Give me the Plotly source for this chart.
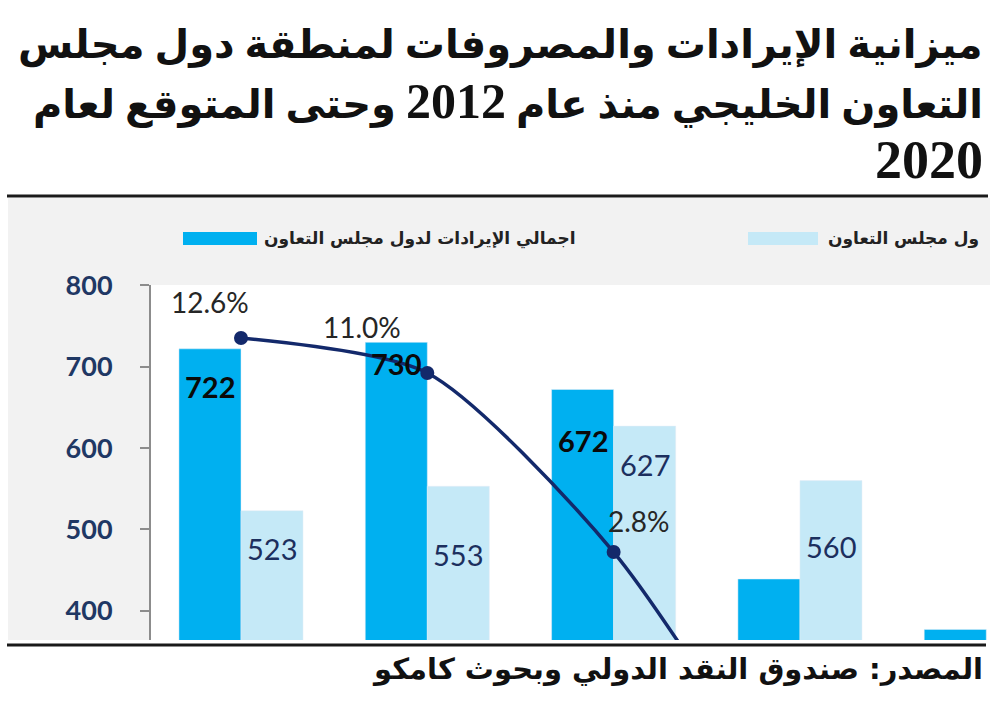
import plotly.graph_objects as go

# ---------------- data ----------------
years = ["2012", "2013", "2014", "2015", "2016"]
revenues = [722, 730, 672, 439, 377]          # اجمالي الإيرادات
expenses = [523, 553, 627, 560, None]         # اجمالي المصروفات (2016 outside visible area)
balance_pct = [12.6, 11.0, 2.8, -10.0]        # % line (last point estimated, runs off chart)
rev_labels = ["722", "730", "672"]
exp_labels = ["523", "553", "627", "560"]
pct_labels = ["12.6%", "11.0%", "2.8%"]
y_ticks = [400, 500, 600, 700, 800]

title_lines = [
    "ميزانية الإيرادات والمصروفات لمنطقة دول مجلس",
    "التعاون الخليجي منذ عام <span style='font-size:50px'>2012</span> وحتى المتوقع لعام",
    "<span style='font-size:54px'>2020</span>",
]
legend_rev = "اجمالي الإيرادات لدول مجلس التعاون"
legend_exp_visible = "ول مجلس التعاون"
source_text = "المصدر: صندوق النقد الدولي وبحوث كامكو"

# ---------------- layout geometry (pixels) ----------------
W, H = 1000, 721
L, R, T, B = 151, 990, 285, 640


def px(x):
    return (x - L) / (R - L)


def py(y):
    return (B - y) / (B - T)


DARK = "#00b0f0"
LIGHT = "#c5e9f7"
NAVY = "#13296b"
ARABIC = "DejaVu Sans"

fig = go.Figure()
fig.add_trace(go.Bar(x=years, y=revenues, marker_color=DARK, showlegend=False,
                     name=legend_rev))
fig.add_trace(go.Bar(x=years, y=expenses, marker_color=LIGHT, showlegend=False,
                     name="اجمالي المصروفات لدول مجلس التعاون"))
fig.add_trace(go.Scatter(x=years[:len(balance_pct)], y=balance_pct, yaxis="y2",
                         mode="lines+markers",
                         line=dict(color=NAVY, width=3.5, shape="spline", smoothing=0.7),
                         marker=dict(color=NAVY, size=14), showlegend=False))

shapes = []
# gray chart background, then white plot area
shapes.append(dict(type="rect", xref="paper", yref="paper", x0=px(8), x1=px(990),
                   y0=py(640), y1=py(198), fillcolor="#f2f2f2", line_width=0, layer="below"))
shapes.append(dict(type="rect", xref="paper", yref="paper", x0=px(L), x1=px(R),
                   y0=py(B), y1=py(T), fillcolor="white", line_width=0, layer="below"))
# rules
shapes.append(dict(type="line", xref="paper", yref="paper", x0=px(7), x1=px(988),
                   y0=py(196), y1=py(196), line=dict(color="#1a1a1a", width=3)))
shapes.append(dict(type="line", xref="paper", yref="paper", x0=px(7), x1=px(986),
                   y0=py(645), y1=py(645), line=dict(color="#1a1a1a", width=3)))
# legend swatches
shapes.append(dict(type="rect", xref="paper", yref="paper", x0=px(183), x1=px(257),
                   y0=py(245), y1=py(232), fillcolor=DARK, line_width=0))
shapes.append(dict(type="rect", xref="paper", yref="paper", x0=px(748), x1=px(818),
                   y0=py(245), y1=py(232), fillcolor=LIGHT, line_width=0))

ann = []
# title
title_y = [45, 101, 160]
for line, yy in zip(title_lines, title_y):
    ann.append(dict(text=line, xref="paper", yref="paper", x=px(985), y=py(yy),
                    xanchor="right", yanchor="middle", showarrow=False,
                    font=dict(family="Liberation Serif, " + ARABIC, size=40,
                              color="#111111", weight="bold")))
# legend text
ann.append(dict(text=legend_rev, xref="paper", yref="paper", x=px(262), y=py(238),
                xanchor="left", yanchor="middle", showarrow=False,
                font=dict(family=ARABIC, size=17, color="#222222", weight="bold")))
ann.append(dict(text=legend_exp_visible, xref="paper", yref="paper", x=px(826), y=py(238),
                xanchor="left", yanchor="middle", showarrow=False,
                font=dict(family=ARABIC, size=17, color="#222222", weight="bold")))
# source
ann.append(dict(text=source_text, xref="paper", yref="paper", x=px(985), y=py(669),
                xanchor="right", yanchor="middle", showarrow=False,
                font=dict(family=ARABIC, size=29, color="#111111", weight="bold")))

# bar value labels
BAR_OFF = 0.1665
rev_shift = [-38, -21, -51]
for i, (lab, sh) in enumerate(zip(rev_labels, rev_shift)):
    ann.append(dict(text=lab, x=i - BAR_OFF, y=revenues[i], xref="x", yref="y",
                    yshift=sh, showarrow=False, yanchor="middle",
                    font=dict(family="Lato", size=29, color="#0a0a0a", weight="bold")))
exp_shift = [-38, -68, -38, -66]
for i, (lab, sh) in enumerate(zip(exp_labels, exp_shift)):
    ann.append(dict(text=lab, x=i + BAR_OFF, y=expenses[i], xref="x", yref="y",
                    yshift=sh, showarrow=False, yanchor="middle",
                    font=dict(family="Lato", size=29, color="#1c2f5e")))
# percentage labels
pct_dx = [-31, -65, 25]
pct_dy = [36, 46, 31]
for i, (lab, dx, dy) in enumerate(zip(pct_labels, pct_dx, pct_dy)):
    ann.append(dict(text=lab, x=i, y=balance_pct[i], xref="x", yref="y2",
                    xshift=dx, yshift=dy, showarrow=False, yanchor="middle",
                    font=dict(family="Lato", size=28, color="#262626")))

fig.update_layout(
    width=W, height=H,
    margin=dict(l=L, r=W - R, t=T, b=H - B, pad=0),
    paper_bgcolor="white", plot_bgcolor="rgba(0,0,0,0)",
    barmode="group", bargap=0.334, bargroupgap=0,
    shapes=shapes, annotations=ann,
    xaxis=dict(type="category", categoryorder="array", categoryarray=years,
               range=[-0.483, 4.02], showticklabels=False, showgrid=False,
               zeroline=False, showline=False, ticks=""),
    yaxis=dict(range=[364, 800.5], tickvals=y_ticks, showgrid=False, zeroline=False,
               showline=True, linecolor="#8c8c8c", linewidth=2,
               ticks="outside", ticklen=9, tickwidth=2, tickcolor="#8c8c8c",
               ticklabelstandoff=22,
               tickfont=dict(family="Lato", size=27, color="#1f3864", weight="bold")),
    yaxis2=dict(overlaying="y", side="right", range=[-1.23, 15.03], visible=False),
)

fig.write_html("out.html")
